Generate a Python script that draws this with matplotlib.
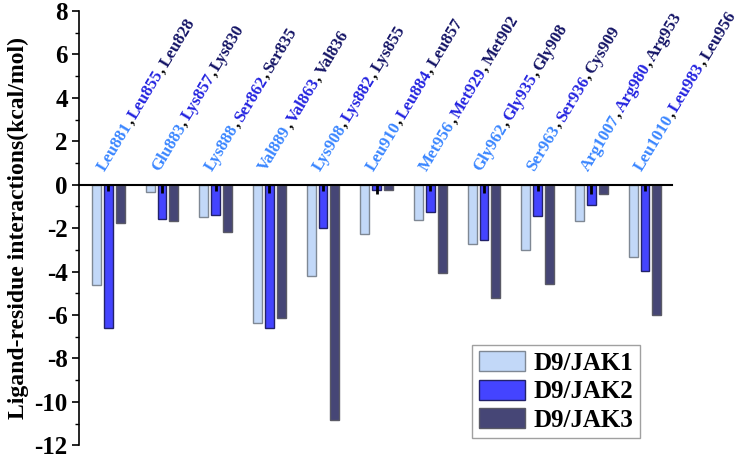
import matplotlib
matplotlib.use("Agg")
import matplotlib.pyplot as plt
import numpy as np
from matplotlib.ticker import MultipleLocator
from matplotlib.font_manager import FontProperties

res1 = ["Leu881", "Glu883", "Lys888", "Val889", "Lys908", "Leu910",
        "Met956", "Gly962", "Ser963", "Arg1007", "Leu1010"]
res2 = ["Leu855", "Lys857", "Ser862", "Val863", "Lys882", "Leu884",
        "Met929", "Gly935", "Ser936", "Arg980", "Leu983"]
res3 = ["Leu828", "Lys830", "Ser835", "Val836", "Lys855", "Leu857",
        "Met902", "Gly908", "Cys909", "Arg953", "Leu956"]

jak1 = [-4.63, -0.33, -1.48, -6.35, -4.22, -2.29, -1.63, -2.71, -2.99, -1.65, -3.35]
jak2 = [-6.60, -1.58, -1.40, -6.61, -1.98, -0.23, -1.25, -2.57, -1.45, -0.94, -3.98]
jak3 = [-1.78, -1.68, -2.18, -6.13, -10.82, -0.26, -4.08, -5.20, -4.56, -0.44, -5.99]

# small black error marks on the JAK2 bars (top, bottom)
err_top = [0.0, 0.0, 0.0, 0.0, 0.0, 0.05, 0.0, 0.0, 0.0, 0.0, 0.0]
err_bot = [-0.30, -0.40, -0.30, -0.40, -0.30, -0.45, -0.30, -0.40, -0.30, -0.45, -0.30]

series_names = ["D9/JAK1", "D9/JAK2", "D9/JAK3"]
face_colors = ["#C2D8F8", "#4444FF", "#464676"]
edge_colors = ["#7F8894", "#22226A", "#5A5A66"]
label_colors = ["#3A86FF", "#2424E0", "#141466"]

serif = "Liberation Serif"
plt.rcParams["font.family"] = serif
plt.rcParams["font.weight"] = "bold"
plt.rcParams["axes.unicode_minus"] = False

fig = plt.figure(figsize=(7.38, 4.59), dpi=100)
ax = fig.add_axes([0.107, 0.03, 0.804, 0.946])

x = np.arange(1, len(res1) + 1)
off = 0.22
w = 0.165
for k, (vals, fc, ec, nm) in enumerate(zip([jak1, jak2, jak3], face_colors, edge_colors, series_names)):
    ax.bar(x + (k - 1) * off, vals, width=w, color=fc, edgecolor=ec, linewidth=1.0, label=nm, zorder=2)

ax.vlines(x, err_bot, err_top, color="black", linewidth=2.0, zorder=3)

ax.set_xlim(0.453, 11.51)
ax.set_ylim(-12, 8)
ax.spines["top"].set_visible(False)
ax.spines["right"].set_visible(False)
ax.spines["bottom"].set_position(("data", 0))
ax.spines["bottom"].set_linewidth(1.5)
ax.spines["left"].set_linewidth(1.2)
ax.spines["bottom"].set_zorder(4)
ax.set_xticks([])
ax.yaxis.set_major_locator(MultipleLocator(2))
ax.yaxis.set_minor_locator(MultipleLocator(1))
ax.tick_params(axis="y", which="major", direction="out", length=5, width=1.2, labelsize=18, pad=3)
ax.tick_params(axis="y", which="minor", direction="out", length=3, width=1.0)
for t in ax.get_yticklabels():
    t.set_fontweight("bold")
ax.set_ylabel("Ligand-residue interactions(kcal/mol)", fontsize=17, fontweight="bold", labelpad=4)

# multi-coloured rotated residue labels
fig.canvas.draw()
renderer = fig.canvas.get_renderer()
lab_fs = 12.2
fp = FontProperties(family=serif, weight="bold", size=lab_fs)
ang = 59.0
ca, sa = np.cos(np.radians(ang)), np.sin(np.radians(ang))

def width_pts(s):
    wpx, _, _ = renderer.get_text_width_height_descent(s, fp, ismath=False)
    return wpx * 72.0 / fig.dpi

sp = 0.12 * lab_fs
for i in range(len(res1)):
    pieces = [(res1[i], label_colors[0]), (",", "black"), (res2[i], label_colors[1]),
              (",", "black"), (res3[i], label_colors[2])]
    cum = 0.0
    for s, c in pieces:
        ax.annotate(s, xy=(x[i] - 0.06, 0.6), xycoords="data",
                    xytext=(cum * ca, cum * sa), textcoords="offset points",
                    rotation=ang, rotation_mode="anchor", ha="left", va="baseline",
                    color=c, fontproperties=fp, annotation_clip=False)
        cum += width_pts(s)
        if s == ",":
            cum += sp
        else:
            cum += 0.03 * lab_fs

leg = ax.legend(loc="lower right", bbox_to_anchor=(0.945, 0.016),
                prop={"family": serif, "weight": "bold", "size": 18},
                frameon=True, fancybox=False, edgecolor="#888888",
                handlelength=1.85, handleheight=0.85, handletextpad=0.35,
                labelspacing=0.2, borderpad=0.25, borderaxespad=0.0)
leg.get_frame().set_linewidth(1.0)

fig.savefig("out.png", dpi=100)
